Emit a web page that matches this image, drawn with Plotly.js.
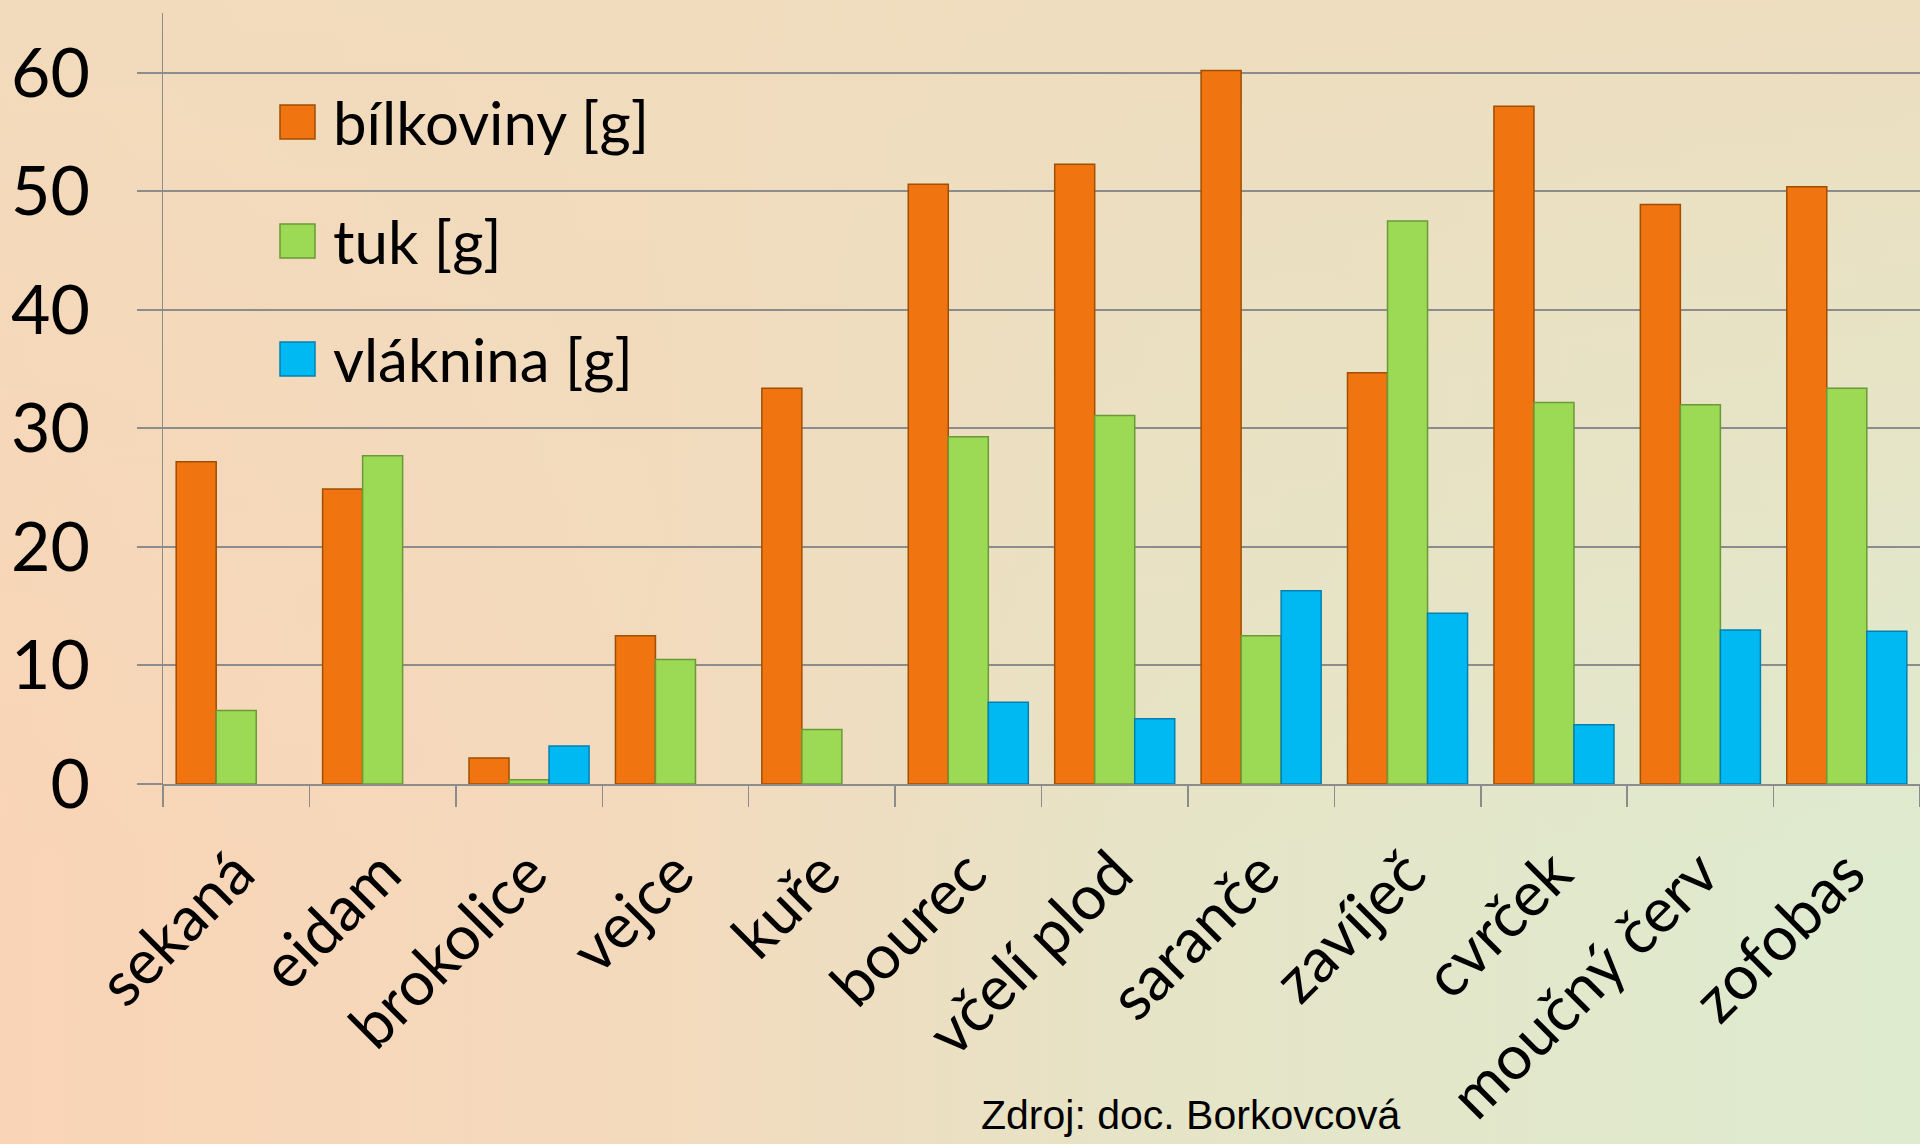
<!DOCTYPE html>
<html>
<head>
<meta charset="utf-8">
<script src="https://cdn.plot.ly/plotly-3.0.1.min.js"></script>
<style>
  html, body { margin: 0; padding: 0; width: 1920px; height: 1144px; overflow: hidden; }
  body {
    background:
      linear-gradient(to bottom, rgba(240,220,189,0.85) 0%, rgba(240,220,189,0.35) 45%, rgba(240,220,189,0) 75%),
      linear-gradient(to right, #FAD4B6 0%, #F3DABD 35%, #E6E4C7 60%, #DEEBCF 100%);
  }
  #chart { width: 1920px; height: 1144px; }
</style>
</head>
<body>
<div id="chart"></div>
<script>
// ---- data ----
const categories = ["sekaná", "eidam", "brokolice", "vejce", "kuře", "bourec", "včelí plod", "saranče", "zavíječ", "cvrček", "moučný červ", "zofobas"];
const seriesNames = ["bílkoviny [g]", "tuk [g]", "vláknina [g]"];
const bilkoviny = [27.2, 24.9, 2.2, 12.5, 33.4, 50.6, 52.3, 60.2, 34.7, 57.2, 48.9, 50.4];
const tuk       = [6.2, 27.7, 0.35, 10.5, 4.6, 29.3, 31.1, 12.5, 47.5, 32.2, 32.0, 33.4];
const vlaknina  = [null, null, 3.2, null, null, 6.9, 5.5, 16.3, 14.4, 5.0, 13.0, 12.9];
const yTicks = [0, 10, 20, 30, 40, 50, 60];
const sourceText = "Zdroj: doc. Borkovcová";

// ---- styles ----
const fills = ["#F07410", "#9CDA56", "#00B9F2"];
const borders = ["#A04E00", "#6A9A36", "#0480B0"];
const values = [bilkoviny, tuk, vlaknina];

const W = 1920, H = 1144;
const M = { l: 163, r: 0, t: 13, b: 360 };
const pw = W - M.l - M.r, ph = H - M.t - M.b;
const px = x => (x - M.l) / pw;
const py = y => (H - M.b - y) / ph;

const traces = values.map((v, i) => ({
  type: "bar",
  name: seriesNames[i],
  x: categories,
  y: v,
  marker: { color: fills[i], line: { color: borders[i], width: 1.5 } },
  showlegend: false,
  hoverinfo: "x+y+name"
}));

// manual legend (large squares like the original)
const legendRows = [122, 241, 359];
const shapes = [];
const annotations = [];
seriesNames.forEach((n, i) => {
  const cy = legendRows[i];
  shapes.push({
    type: "rect", xref: "paper", yref: "paper",
    x0: px(280), x1: px(315), y0: py(cy - 17), y1: py(cy + 17),
    fillcolor: fills[i], line: { color: borders[i], width: 1.5 }
  });
  annotations.push({
    xref: "paper", yref: "paper", x: px(331), y: py(cy),
    xanchor: "left", yanchor: "middle", showarrow: false,
    text: n, font: { family: "Lato, 'Open Sans', sans-serif", size: 60, color: "#000" }
  });
});
annotations.push({
  xref: "paper", yref: "paper", x: px(1190), y: py(1115),
  xanchor: "center", yanchor: "middle", showarrow: false,
  text: sourceText, font: { family: "'Liberation Sans', Arial, sans-serif", size: 41, color: "#000" }
});

const layout = {
  width: W, height: H,
  margin: M,
  paper_bgcolor: "rgba(0,0,0,0)",
  plot_bgcolor: "rgba(0,0,0,0)",
  barmode: "group",
  bargap: 0.18,
  bargroupgap: 0,
  showlegend: false,
  font: { family: "Lato, 'Open Sans', sans-serif", color: "#000" },
  xaxis: {
    type: "category",
    tickson: "boundaries",
    ticks: "outside", ticklen: 21, tickwidth: 1.5, tickcolor: "#8C8C8C",
    showline: true, linecolor: "#8C8C8C", linewidth: 2,
    showgrid: false,
    tickangle: -45,
    tickfont: { family: "Lato, 'Open Sans', sans-serif", size: 62, color: "#000" },
    ticklabelstandoff: 26,
    automargin: false
  },
  yaxis: {
    range: [0, 65.06],
    tickvals: yTicks,
    ticktext: yTicks.map(String),
    ticks: "outside", ticklen: 25, tickwidth: 2, tickcolor: "#8C8C8C",
    showline: true, linecolor: "#8C8C8C", linewidth: 1.5,
    showgrid: true, gridcolor: "#8C8C8C", gridwidth: 2,
    zeroline: false,
    tickfont: { family: "Lato, 'Open Sans', sans-serif", size: 68, color: "#000" },
    ticklabelstandoff: 33,
    automargin: false
  },
  shapes: shapes,
  annotations: annotations
};

Plotly.newPlot("chart", traces, layout, { displayModeBar: false, staticPlot: true });
</script>
</body>
</html>
